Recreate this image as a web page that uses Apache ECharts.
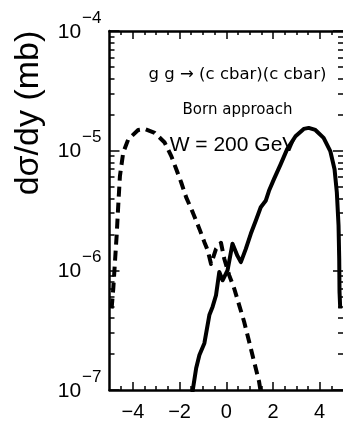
<!DOCTYPE html>
<html>
<head>
<meta charset="utf-8">
<script src="https://cdn.jsdelivr.net/npm/echarts@6/dist/echarts.min.js"></script>
<style>html,body{margin:0;padding:0;background:#fff;}#c{width:343px;height:422px;}</style>
</head>
<body>
<div id="c"></div>
<script>
// rapidity (x) and dσ/dy in mb (y)
const dashedX = [-4.91, -4.838, -4.766, -4.694, -4.626, -4.553, -4.413, -4.2, -3.774, -3.489, -3.064, -2.638, -2.353, -2.14, -1.928, -1.715, -1.434, -1.149, -0.936, -0.796, -0.651, -0.438, -0.226, -0.085, 0.128, 0.34, 0.553, 0.766, 0.979, 1.191, 1.404, 1.5];
const dashedY = [4.8e-7, 7.05e-7, 1.18e-6, 1.95e-6, 3.47e-6, 6.15e-6, 9.64e-6, 1.24e-5, 1.49e-5, 1.52e-5, 1.41e-5, 1.17e-5, 9.0e-6, 7.0e-6, 5.42e-6, 4.07e-6, 3.05e-6, 2.22e-6, 1.72e-6, 1.47e-6, 1.13e-6, 1.51e-6, 1.70e-6, 1.25e-6, 9.08e-7, 7.05e-7, 5.12e-7, 3.72e-7, 2.54e-7, 1.73e-7, 1.18e-7, 9.0e-8];
const solidX = [-1.47, -1.289, -1.149, -0.936, -0.723, -0.583, -0.438, -0.298, -0.157, 0.055, 0.268, 0.481, 0.626, 0.838, 1.051, 1.264, 1.477, 1.689, 1.83, 2.043, 2.328, 2.609, 2.966, 3.319, 3.532, 3.817, 4.17, 4.455, 4.638, 4.736, 4.809, 4.838, 4.851, 4.881];
const solidY = [9.0e-8, 1.52e-7, 1.96e-7, 2.46e-7, 4.23e-7, 4.97e-7, 6.19e-7, 9.68e-7, 8.26e-7, 1.0e-6, 1.67e-6, 1.32e-6, 1.17e-6, 1.51e-6, 2.02e-6, 2.60e-6, 3.37e-6, 3.81e-6, 4.62e-6, 5.78e-6, 7.69e-6, 1.03e-5, 1.32e-5, 1.52e-5, 1.55e-5, 1.49e-5, 1.28e-5, 9.93e-6, 7.0e-6, 4.48e-6, 2.37e-6, 1.25e-6, 6.61e-7, 4.80e-7];

// axis ticks
const xMajorTicks = [-4, -2, 0, 2, 4];
const xMinorTicks = [-4.5, -3.5, -3, -2.5, -1.5, -1, -0.5, 0.5, 1, 1.5, 2.5, 3, 3.5, 4.5];
const yMinorMantissas = [2, 3, 4, 5, 6, 7, 8, 9];
const yMinorTicksLog = [];
for (const d of [-7, -6, -5]) for (const m of yMinorMantissas) yMinorTicksLog.push(d + Math.log10(m));

const title = 'dσ/dy (mb)';
const note1 = 'g g → (c cbar)(c cbar)';
const note2 = 'Born approach';
const note3 = 'W = 200 GeV';

const F = 'Liberation Sans';
const pairs = (xs, ys) => xs.map((x, i) => [x, ys[i]]);
const minus = s => String(s).replace('-', '\u2212');

const axLine = { show: true, onZero: false, lineStyle: { color: '#000', width: 2.5 } };
const noLine = { show: false, onZero: false };

function xAx(pos, ticks, len, line, labels) {
  return {
    type: 'value', position: pos, min: -5, max: 5,
    axisLine: line ? axLine : noLine,
    axisTick: { show: true, inside: true, length: len, customValues: ticks, lineStyle: { color: '#000', width: 1.5 } },
    axisLabel: labels ? { show: true, customValues: xMajorTicks, margin: 12, fontFamily: F, fontSize: 20, color: '#000', formatter: v => minus(v) } : { show: false },
    splitLine: { show: false }
  };
}

const chart = echarts.init(document.getElementById('c'), null, { renderer: 'canvas' });
chart.setOption({
  animation: false,
  backgroundColor: '#fff',
  grid: { left: 109.5, top: 31, width: 236, height: 361, containLabel: false },
  xAxis: [
    xAx('bottom', xMajorTicks, 8, true, true),
    xAx('bottom', xMinorTicks, 4, false, false),
    xAx('top', xMajorTicks, 8, true, false),
    xAx('top', xMinorTicks, 4, false, false)
  ],
  yAxis: [
    {
      type: 'log', logBase: 10, position: 'left', min: 1e-7, max: 1e-4,
      axisLine: axLine,
      axisTick: { show: true, inside: true, length: 10, lineStyle: { color: '#000', width: 1.5 } },
      axisLabel: {
        show: true, margin: 8, padding: [0, 0, 10, 0],
        formatter: v => '{b|10}{s|' + minus(Math.round(Math.log10(v))) + '}',
        rich: {
          b: { fontFamily: F, fontSize: 21, lineHeight: 33, color: '#000', verticalAlign: 'bottom' },
          s: { fontFamily: F, fontSize: 17, lineHeight: 17, color: '#000', verticalAlign: 'top', padding: [0, 0, 0, 1] }
        }
      },
      splitLine: { show: false }
    },
    {
      type: 'value', position: 'left', min: -7, max: -4,
      axisLine: noLine,
      axisTick: { show: true, inside: true, length: 5, customValues: yMinorTicksLog, lineStyle: { color: '#000', width: 1.5 } },
      axisLabel: { show: false }, splitLine: { show: false }
    },
    {
      type: 'log', logBase: 10, position: 'right', min: 1e-7, max: 1e-4,
      axisLine: noLine,
      axisTick: { show: true, inside: true, length: 10, lineStyle: { color: '#000', width: 1.5 } },
      axisLabel: { show: false }, splitLine: { show: false }
    },
    {
      type: 'value', position: 'right', min: -7, max: -4,
      axisLine: noLine,
      axisTick: { show: true, inside: true, length: 5, customValues: yMinorTicksLog, lineStyle: { color: '#000', width: 1.5 } },
      axisLabel: { show: false }, splitLine: { show: false }
    }
  ],
  series: [
    {
      type: 'line', xAxisIndex: 0, yAxisIndex: 0, data: pairs(dashedX, dashedY),
      showSymbol: false, symbol: 'none', clip: true,
      lineStyle: { color: '#000', width: 4, type: [10, 6], cap: 'butt', join: 'round' }
    },
    {
      type: 'line', xAxisIndex: 0, yAxisIndex: 0, data: pairs(solidX, solidY),
      showSymbol: false, symbol: 'none', clip: true,
      lineStyle: { color: '#000', width: 4, type: 'solid', join: 'round' }
    }
  ],
  graphic: [
    { type: 'text', x: 29, y: 113, rotation: Math.PI / 2, style: { text: title, font: '34px "Liberation Sans"', fill: '#000', align: 'center', verticalAlign: 'middle' } },
    { type: 'text', x: 237.5, y: 75, style: { text: note1, font: '16.5px "DejaVu Sans"', fill: '#000', align: 'center', verticalAlign: 'middle' } },
    { type: 'text', x: 237.5, y: 110, style: { text: note2, font: '15px "DejaVu Sans"', fill: '#000', align: 'center', verticalAlign: 'middle' } },
    { type: 'text', x: 233, y: 145, style: { text: note3, font: '21px "Liberation Sans"', fill: '#000', align: 'center', verticalAlign: 'middle' } }
  ]
});
</script>
</body>
</html>
